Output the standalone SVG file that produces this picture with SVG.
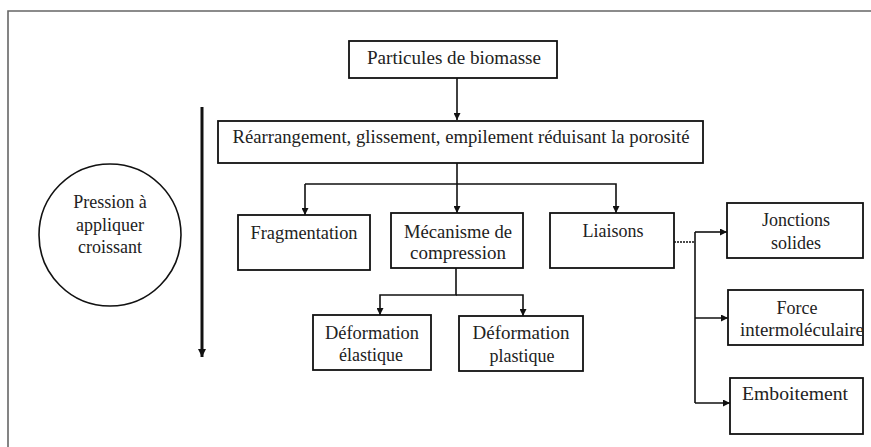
<svg xmlns="http://www.w3.org/2000/svg" width="871" height="447" viewBox="0 0 871 447">
<style>
.box{fill:#fff;stroke:#111;stroke-width:1.8}
.t{font-family:'Liberation Serif','Times New Roman','DejaVu Serif',serif;font-size:18px;fill:#222;text-anchor:middle}
.c{fill:none;stroke:#111;stroke-width:1.6}
</style>
<defs>
<marker id="ah" viewBox="0 0 10 10" refX="10" refY="5" markerWidth="7" markerHeight="7" markerUnits="userSpaceOnUse" orient="auto">
<path d="M0,0 L10,5 L0,10 z" fill="#111"/>
</marker>
<marker id="ahb" viewBox="0 0 10 10" refX="10" refY="5" markerWidth="8" markerHeight="8" markerUnits="userSpaceOnUse" orient="auto">
<path d="M0,0 L10,5 L0,10 z" fill="#111"/>
</marker>
</defs>
<rect width="871" height="447" fill="#fff"/>
<path d="M8,447 V11 H871" fill="none" stroke="#666" stroke-width="1.6"/>

<g id="connectors">
<path class="c" d="M457,78 V120" marker-end="url(#ah)"/>
<path class="c" d="M457,163 V213" marker-end="url(#ah)"/>
<path class="c" d="M305,184 H616 V213" marker-end="url(#ah)"/>
<path class="c" d="M305,184 V215" marker-end="url(#ah)"/>
<path class="c" d="M456,268 V295 H380 V315" marker-end="url(#ah)"/>
<path class="c" d="M456,295 H523 V316" marker-end="url(#ah)"/>
<path class="c" d="M674,242 H695" stroke-dasharray="2,1" stroke-width="1.2"/>
<path class="c" d="M695,232 V403" stroke-width="1.3"/>
<path class="c" d="M695,232 H727" marker-end="url(#ah)"/>
<path class="c" d="M695,318 H728" marker-end="url(#ah)"/>
<path class="c" d="M695,403 H730" marker-end="url(#ah)"/>
<path d="M202,107 V357" fill="none" stroke="#111" stroke-width="3" marker-end="url(#ahb)"/>
</g>

<g id="n-particules">
<rect class="box" x="349" y="41" width="208" height="37"/>
<text class="t" x="454" y="64" textLength="174" lengthAdjust="spacingAndGlyphs">Particules de biomasse</text>
</g>
<g id="n-rearrangement">
<rect class="box" x="218" y="121" width="485" height="42"/>
<text class="t" x="461" y="143" textLength="457" lengthAdjust="spacingAndGlyphs">Réarrangement, glissement, empilement réduisant la porosité</text>
</g>
<g id="n-fragmentation">
<rect class="box" x="238" y="215" width="132" height="55"/>
<text class="t" x="304" y="239" textLength="107" lengthAdjust="spacingAndGlyphs">Fragmentation</text>
</g>
<g id="n-mecanisme">
<rect class="box" x="391" y="213" width="132" height="55"/>
<text class="t" x="458" y="238" textLength="108" lengthAdjust="spacingAndGlyphs">Mécanisme de</text>
<text class="t" x="458" y="259" textLength="96" lengthAdjust="spacingAndGlyphs">compression</text>
</g>
<g id="n-liaisons">
<rect class="box" x="550" y="213" width="124" height="55"/>
<text class="t" x="613" y="237">Liaisons</text>
</g>
<g id="n-def-elastique">
<rect class="box" x="313" y="315" width="118" height="55"/>
<text class="t" x="372" y="339" textLength="94" lengthAdjust="spacingAndGlyphs">Déformation</text>
<text class="t" x="371" y="361">élastique</text>
</g>
<g id="n-def-plastique">
<rect class="box" x="459" y="316" width="124" height="55"/>
<text class="t" x="521" y="339" textLength="97" lengthAdjust="spacingAndGlyphs">Déformation</text>
<text class="t" x="522" y="362">plastique</text>
</g>
<g id="n-jonctions">
<rect class="box" x="727" y="203" width="136" height="55"/>
<text class="t" x="796" y="226">Jonctions</text>
<text class="t" x="796" y="249">solides</text>
</g>
<g id="n-force">
<rect class="box" x="728" y="290" width="135" height="55"/>
<text class="t" x="797" y="314">Force</text>
<text class="t" x="802" y="336" textLength="124" lengthAdjust="spacingAndGlyphs">intermoléculaire</text>
</g>
<g id="n-emboitement">
<rect class="box" x="730" y="378" width="133" height="56"/>
<text class="t" x="795" y="400" textLength="106" lengthAdjust="spacingAndGlyphs">Emboitement</text>
</g>
<g id="n-pression">
<circle cx="110" cy="235" r="71" fill="#fff" stroke="#111" stroke-width="1.6"/>
<text class="t" x="110" y="208">Pression à</text>
<text class="t" x="110" y="231">appliquer</text>
<text class="t" x="110" y="253">croissant</text>
</g>
</svg>
